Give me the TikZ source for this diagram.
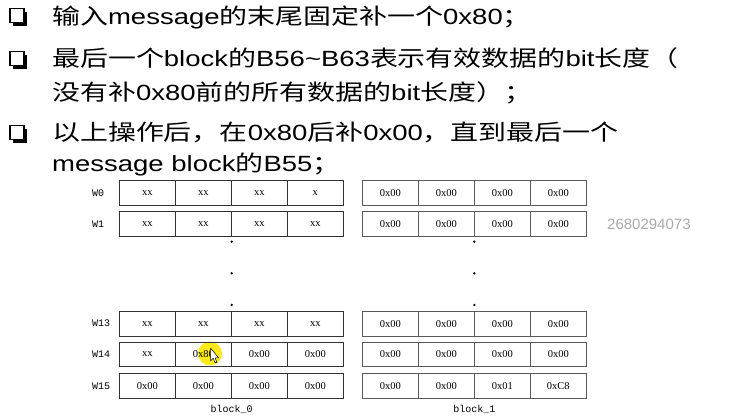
\documentclass[tikz,border=0pt]{standalone}
\usepackage{fontspec}
\setmainfont{Liberation Sans}
\newfontfamily\bodyfont[FakeStretch=1.25]{Liberation Sans}
\newfontfamily\cjk[FakeStretch=1.27]{Noto Sans CJK SC}
\newfontfamily\cellfont{Liberation Serif}
\newfontfamily\labfont{Liberation Mono}
\newcommand\zh[1]{{\cjk #1}}
\definecolor{hilite}{RGB}{255,232,0}
\definecolor{stamp}{RGB}{170,170,170}
\begin{document}
\begin{tikzpicture}[x=1pt,y=-1pt,
  bodytext/.style={anchor=base west, inner sep=0pt, font=\bodyfont\fontsize{22}{26}\selectfont},
  checkbox/.style={minimum size=14pt, inner sep=0pt, draw=black, line width=1.2pt, fill=white},
  cell/.style={draw=black!80, line width=0.6pt, minimum width=56pt, minimum height=24.5pt,
    inner sep=0pt, font=\cellfont\fontsize{10.5}{12}\selectfont},
  rowlab/.style={anchor=west, inner sep=0pt, font=\labfont\fontsize{10}{11}\selectfont},
  blocklab/.style={inner sep=0pt, font=\labfont\fontsize{10}{11}\selectfont},
  vdot/.style={circle, fill=black, inner sep=0pt, minimum size=2.6pt},
]
\useasboundingbox (0,0) rectangle (740,419);

% bullet boxes with drop shadow
\foreach \n/\yy in {c1/15.5, c2/58.5, c4/132.5}{
  \fill ({17-7+3.2},{\yy-7+3.2}) rectangle ++(14,14);
  \node[checkbox] (\n) at (17,\yy) {};
}

% bullet text
\node[bodytext] (t1) at (52,25) {\zh{输入}message\zh{的末尾固定补一个}0x80\zh{；}};
\node[bodytext] (t2) at (52,67) {\zh{最后一个}block\zh{的}B56{\char"7E}B63\zh{表示有效数据的}bit\zh{长度（}};
\node[bodytext] (t3) at (52,101) {\zh{没有补}0x80\zh{前的所有数据的}bit\zh{长度）；}};
\node[bodytext] (t4) at (52,141) {\zh{以上操作后，在}0x80\zh{后补}0x00\zh{，直到最后一个}};
\node[bodytext] (t5) at (52,172) {message block\zh{的}B55\zh{；}};

% pointer highlight
\fill[hilite, opacity=0.9] (210,353.5) circle (12);

% word rows of the two blocks
\foreach \yy/\lab/\ca/\cb in {
  193/W0/{xx,xx,xx,x}/{0x00,0x00,0x00,0x00},
  224/W1/{xx,xx,xx,xx}/{0x00,0x00,0x00,0x00},
  323.7/W13/{xx,xx,xx,xx}/{0x00,0x00,0x00,0x00},
  354.5/W14/{xx,0x80,0x00,0x00}/{0x00,0x00,0x00,0x00},
  385.8/W15/{0x00,0x00,0x00,0x00}/{0x00,0x00,0x01,0xC8}}{
  \node[rowlab] (l\lab) at (92,\yy) {\lab};
  \foreach \t [count=\i] in \ca {
    \node[cell] (a\lab-\i) at ({119.3+28+56*(\i-1)},\yy) {\t};
  }
  \foreach \t [count=\i] in \cb {
    \node[cell, draw=black!65] (b\lab-\i) at ({362.3+28+56*(\i-1)},\yy) {\t};
  }
}

% mouse pointer
\draw[fill=white, line width=0.5pt, line join=round]
  (210.5,348) -- (210.5,361) -- (213.2,358.4) -- (215.2,363) -- (216.9,362.2)
  -- (215,357.8) -- (218.6,357.8) -- cycle;

% ellipsis dots
\foreach \k/\yy in {1/241.7, 2/273.3, 3/305}{
  \node[vdot] (da\k) at (231.7,\yy) {};
  \node[vdot] (db\k) at (474.3,\yy) {};
}

% block captions
\node[blocklab] (blk0) at (231.7,409) {block\_0};
\node[blocklab] (blk1) at (474.3,409) {block\_1};

% stamp number
\node[anchor=west, inner sep=0pt, text=stamp, font=\fontsize{15}{16}\selectfont] (stamp) at (607,224) {2680294073};
\end{tikzpicture}
\end{document}
